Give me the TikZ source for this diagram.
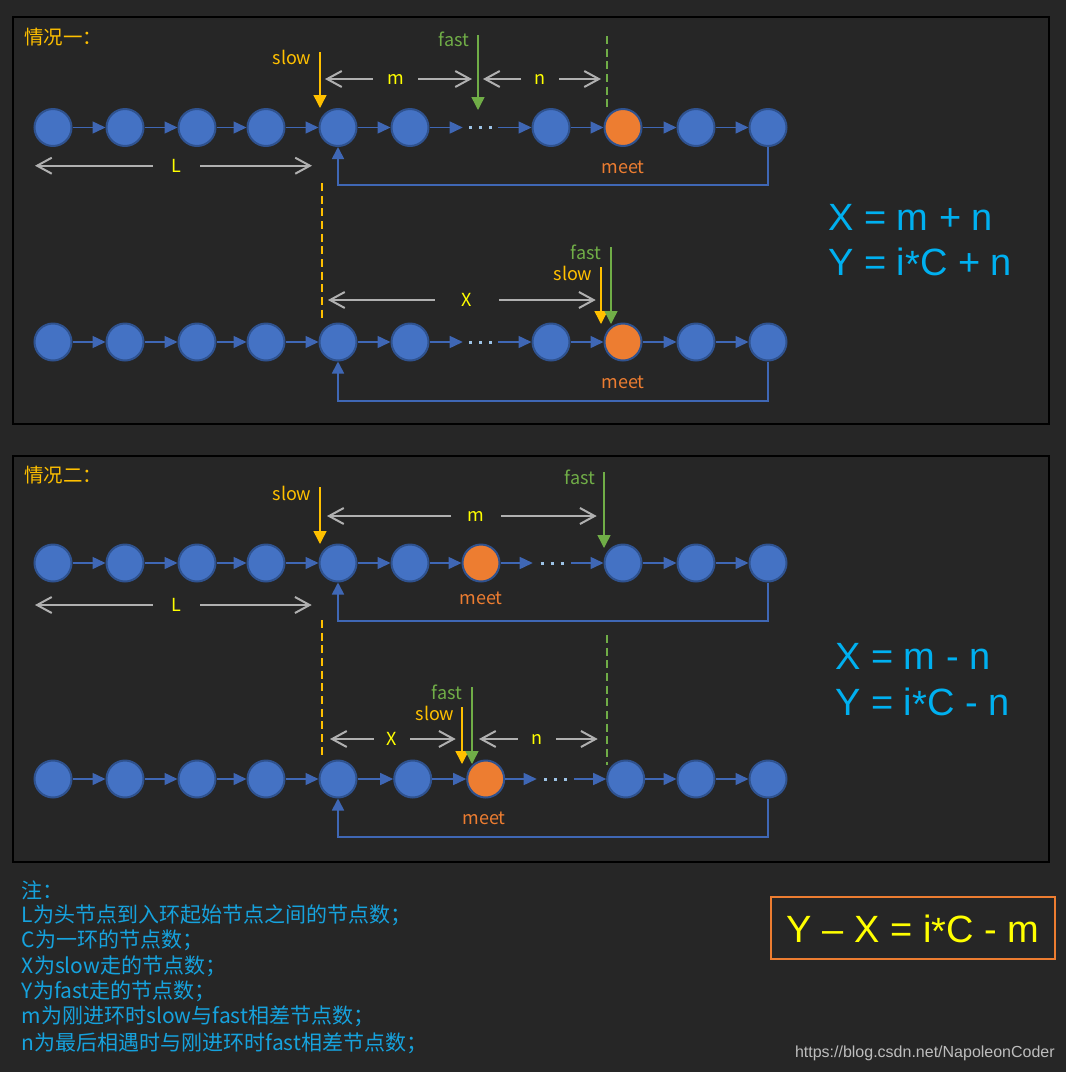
\documentclass[tikz,border=0pt]{standalone}
\usepackage{fontspec}
\setmainfont{Liberation Sans}
\newfontfamily\cjk{Noto Sans CJK SC}
\usetikzlibrary{arrows.meta}
\definecolor{bg}{HTML}{262626}
\definecolor{nblue}{HTML}{4472C4}
\definecolor{nborder}{HTML}{2F528F}
\definecolor{norange}{HTML}{ED7D31}
\definecolor{linkblue}{HTML}{3F67B5}
\definecolor{slowc}{HTML}{FFC000}
\definecolor{fastc}{HTML}{70AD47}
\definecolor{lblyellow}{HTML}{FFFF00}
\definecolor{dimgray}{HTML}{B0B0B0}
\definecolor{formc}{HTML}{00B0F0}
\definecolor{notec}{HTML}{16A2DD}
\definecolor{dotc}{HTML}{9DC3E6}
\definecolor{wmc}{HTML}{BDBDBD}
\newcommand\dimarr[7]{%
  \node[dimlbl, minimum width={(#6-#5)*0.75pt}] (#1) at ({(#5+#6)/2},#2) {#7};
  \coordinate (#1l) at (#3,#2);
  \coordinate (#1r) at (#4,#2);
  \draw[dimline] (#1.west) -- (#1l);
  \draw[dimline] (#1.east) -- (#1r);}
\newcommand\ptrarr[5]{%
  \coordinate (#1a) at (#3,#4);
  \coordinate (#1b) at (#3,#5);
  \draw[#2] (#1a) -- (#1b);}
\newcommand\lowstar{\raisebox{-0.06em}{*}}
\begin{document}
\begin{tikzpicture}[x=0.75pt,y=-0.75pt,
  panel/.style={draw=black, line width=1.5pt, fill=bg},
  nd/.style={circle, fill=nblue, draw=nborder, line width=1.5pt, minimum size=27.75pt, inner sep=0pt},
  ndo/.style={nd, fill=norange},
  dotsnode/.style={minimum width=#1, minimum height=8pt, inner sep=0pt,
    path picture={\draw[dotc, line width=2.25pt, dash pattern=on 2.25pt off 5.25pt]
      ([xshift=-8.625pt]path picture bounding box.center) -- ([xshift=8.625pt]path picture bounding box.center);}},
  link/.style={draw=linkblue, line width=1.1pt, -{Triangle[length=9.75pt,width=9pt]}},
  fb/.style={draw=linkblue, line width=1.3pt, -{Triangle[length=9pt,width=9pt]}},
  ptrslow/.style={draw=slowc, line width=1.1pt, -{Triangle[length=9.75pt,width=9.75pt]}},
  ptrfast/.style={draw=fastc, line width=1.1pt, -{Triangle[length=9.75pt,width=9.75pt]}},
  dashy/.style={draw=slowc, line width=1.5pt, dash pattern=on 6pt off 3.5pt},
  dashg/.style={draw=fastc, line width=1.5pt, dash pattern=on 6pt off 3.5pt},
  dimline/.style={draw=dimgray, line width=1.5pt, -{Straight Barb[length=11pt,width=12pt]}},
  dimlbl/.style={text=lblyellow, font=\cjk\fontsize{13.5pt}{16pt}\selectfont, inner sep=0pt},
  ptrlbl/.style={font=\cjk\fontsize{13.5pt}{16pt}\selectfont, inner sep=0pt},
  meetlbl/.style={ptrlbl, text=norange},
  formula/.style={text=formc, font=\fontsize{28.5pt}{34pt}\selectfont, inner sep=0pt, anchor=base west},
  notetxt/.style={text=notec, font=\cjk\fontsize{15.75pt}{19pt}\selectfont, inner sep=0pt, anchor=west},
  paneltitle/.style={text=slowc, font=\cjk\fontsize{14.6pt}{17pt}\selectfont, inner sep=0pt, anchor=west},
  boxstyle/.style={draw=norange, line width=1.5pt, minimum width=213pt, minimum height=46.5pt, inner sep=0pt},
  wmark/.style={text=wmc, font=\fontsize{12pt}{14pt}\selectfont, anchor=east, inner sep=0pt}
]
\fill[bg] (0,0) rectangle (1066,1072);
\useasboundingbox (0,0) rectangle (1066,1072);

% panels
\draw[panel] (13,17) rectangle (1049,424);
\draw[panel] (13,456) rectangle (1049,862);
\node[paneltitle] (title1) at (24,37) {情况一：};
\node[paneltitle] (title2) at (24,475) {情况二：};

% ---------- panel 1, row 1 ----------
\foreach \i/\x in {1/53,2/125,3/197,4/266,5/338,6/410,7/551,9/696,10/768}
  \node[nd] (a\i) at (\x,127.5) {};
\node[ndo] (a8) at (623,127.5) {};
\node[dotsnode=26.25pt] (ad) at (480.5,127.5) {};
\foreach \i/\j in {1/2,2/3,3/4,4/5,5/6,7/8,8/9,9/10}
  \draw[link] (a\i) -- (a\j);
\draw[link] (a6) -- (ad);
\draw[link] (ad) -- (a7);
\coordinate (af) at (338,185);
\draw[fb] (a10.south) |- (af) -- (a5.south);

\node[ptrlbl, text=slowc] (ls1) at (292,57) {slow};
\ptrarr{ps1}{ptrslow}{320}{52}{108}
\node[ptrlbl, text=fastc] (lf1) at (454,39) {fast};
\ptrarr{pf1}{ptrfast}{478}{35}{110}
\node[meetlbl] (lm1) at (623,167) {meet};
\dimarr{dma}{79}{325}{472}{373}{418}{m}
\dimarr{dna}{79}{483}{601}{521.7}{559}{n}
\dimarr{dLa}{165.7}{35}{312}{153}{200}{L}
\coordinate (ga1) at (607,36); \coordinate (ga2) at (607,109);
\draw[dashg] (ga1) -- (ga2);
\coordinate (ya1) at (322,183); \coordinate (ya2) at (322,322);
\draw[dashy] (ya1) -- (ya2);

% ---------- panel 1, row 2 ----------
\foreach \i/\x in {1/53,2/125,3/197,4/266,5/338,6/410,7/551,9/696,10/768}
  \node[nd] (b\i) at (\x,342) {};
\node[ndo] (b8) at (623,342) {};
\node[dotsnode=26.25pt] (bd) at (480.5,342) {};
\foreach \i/\j in {1/2,2/3,3/4,4/5,5/6,7/8,8/9,9/10}
  \draw[link] (b\i) -- (b\j);
\draw[link] (b6) -- (bd);
\draw[link] (bd) -- (b7);
\coordinate (bf) at (338,401);
\draw[fb] (b10.south) |- (bf) -- (b5.south);

\node[ptrlbl, text=fastc] (lf2) at (586,252) {fast};
\node[ptrlbl, text=slowc] (ls2) at (573,273) {slow};
\ptrarr{ps2}{ptrslow}{601}{267}{324}
\ptrarr{pf2}{ptrfast}{611}{247}{324}
\node[meetlbl] (lm2) at (623,382) {meet};
\dimarr{dXb}{300}{328}{595.7}{435}{499}{X}

\node[formula] (f1) at (828,230) {X = m + n};
\node[formula] (f2) at (828,275) {Y = i\lowstar C + n};

% ---------- panel 2, row 1 ----------
\foreach \i/\x in {1/53,2/125,3/197,4/266,5/338,6/410,8/623,9/696,10/768}
  \node[nd] (c\i) at (\x,563) {};
\node[ndo] (c7) at (481,563) {};
\node[dotsnode=28.5pt] (cd) at (552,563) {};
\foreach \i/\j in {1/2,2/3,3/4,4/5,5/6,6/7,8/9,9/10}
  \draw[link] (c\i) -- (c\j);
\draw[link] (c7) -- (cd);
\draw[link] (cd) -- (c8);
\coordinate (cf) at (338,621);
\draw[fb] (c10.south) |- (cf) -- (c5.south);

\node[ptrlbl, text=slowc] (ls3) at (292,493) {slow};
\ptrarr{ps3}{ptrslow}{320}{487}{544}
\node[ptrlbl, text=fastc] (lf3) at (580,477) {fast};
\ptrarr{pf3}{ptrfast}{604}{472}{548}
\node[meetlbl] (lm3) at (481,598) {meet};
\dimarr{dmc}{516}{327}{596.7}{451.7}{500.7}{m}
\dimarr{dLc}{605}{35}{311.7}{153}{200}{L}
\coordinate (yc1) at (322,620); \coordinate (yc2) at (322,757);
\draw[dashy] (yc1) -- (yc2);
\coordinate (gc1) at (607,635); \coordinate (gc2) at (607,765);
\draw[dashg] (gc1) -- (gc2);

% ---------- panel 2, row 2 ----------
\foreach \i/\x in {1/53,2/125,3/197,4/266,5/338,6/412.7,8/625.7,9/696,10/768}
  \node[nd] (e\i) at (\x,779) {};
\node[ndo] (e7) at (485.7,779) {};
\node[dotsnode=27.75pt] (ed) at (555.5,779) {};
\foreach \i/\j in {1/2,2/3,3/4,4/5,5/6,6/7,8/9,9/10}
  \draw[link] (e\i) -- (e\j);
\draw[link] (e7) -- (ed);
\draw[link] (ed) -- (e8);
\coordinate (ef) at (338,836.7);
\draw[fb] (e10.south) |- (ef) -- (e5.south);

\node[ptrlbl, text=fastc] (lf4) at (447,692) {fast};
\node[ptrlbl, text=slowc] (ls4) at (435,713) {slow};
\ptrarr{ps4}{ptrslow}{462}{707}{764}
\ptrarr{pf4}{ptrfast}{472}{687}{764}
\node[meetlbl] (lm4) at (484,818) {meet};
\dimarr{dXe}{739}{330}{455.7}{374}{410}{X}
\dimarr{dne}{739}{479}{597.7}{518}{556}{n}

\node[formula] (f3) at (835,669) {X = m - n};
\node[formula] (f4) at (835,715) {Y = i\lowstar C - n};

% ---------- notes ----------
\node[notetxt] (t1) at (21.7,890.7) {注：};
\node[notetxt] (t2) at (21.7,915) {L为头节点到入环起始节点之间的节点数；};
\node[notetxt] (t3) at (21.7,940) {C为一环的节点数；};
\node[notetxt] (t4) at (21.7,966) {X为slow走的节点数；};
\node[notetxt] (t5) at (21.7,991.7) {Y为fast走的节点数；};
\node[notetxt] (t6) at (21.7,1016.7) {m为刚进环时slow与fast相差节点数；};
\node[notetxt] (t7) at (21.7,1043) {n为最后相遇时与刚进环时fast相差节点数；};

\node[boxstyle] (box) at (913,928) {};
\node[formula, text=lblyellow] (f5) at (786.7,942) {Y – X = i\lowstar C - m};
\node[wmark] (wm) at (1055,1053) {https://blog.csdn.net/NapoleonCoder};
\end{tikzpicture}
\end{document}
